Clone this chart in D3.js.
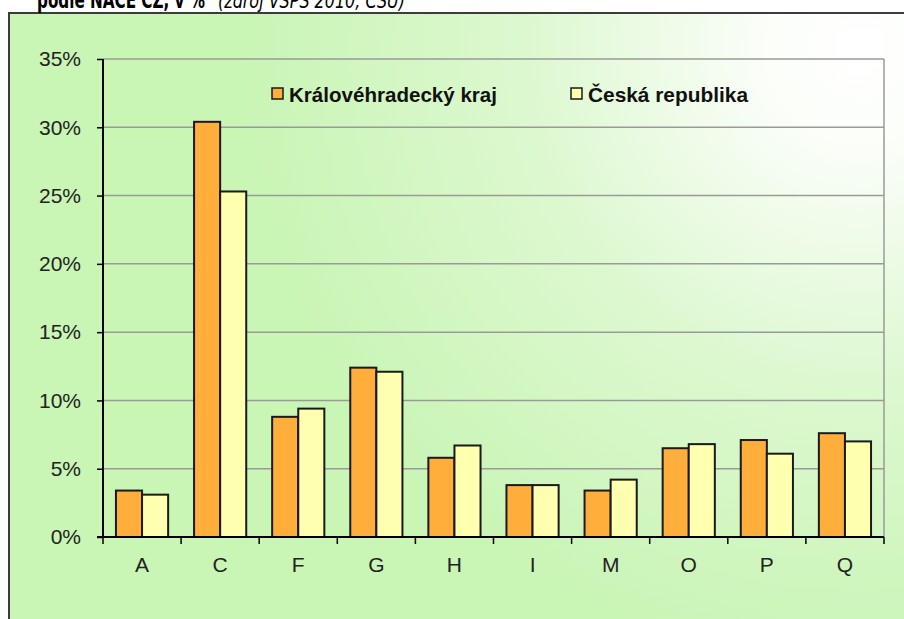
<!DOCTYPE html>
<html lang="cs">
<head>
<meta charset="UTF-8">
<title>Zaměstnanost podle NACE CZ</title>
<script src="https://d3js.org/d3.v7.min.js"></script>
<style>
  body { margin: 0; background: #fff; }
</style>
</head>
<body>
<script>
// Data ////////////////////////////////////
var categories = ['A', 'C', 'F', 'G', 'H', 'I', 'M', 'O', 'P', 'Q'];
var seriesNames = ['Královéhradecký kraj', 'Česká republika'];
var krajValues = [3.4, 30.4, 8.8, 12.4, 5.8, 3.8, 3.4, 6.5, 7.1, 7.6];
var crValues = [3.1, 25.3, 9.4, 12.1, 6.7, 3.8, 4.2, 6.8, 6.1, 7.0];
var yTicks = [0, 5, 10, 15, 20, 25, 30, 35];
var colors = ['#ffae3c', '#ffffb0'];

var W = 904, H = 619;
var margin = {top: 59, right: 20, bottom: 82, left: 103};
var font = 'Arial, "Liberation Sans", sans-serif';

var svg = d3.select('body').append('svg').attr('width', W).attr('height', H);

// background gradient
var defs = svg.append('defs');
var grad = defs.append('radialGradient').attr('id', 'bg')
    .attr('gradientUnits', 'userSpaceOnUse')
    .attr('cx', 860).attr('cy', 50).attr('r', 620);
grad.append('stop').attr('offset', '0%').attr('stop-color', '#ffffff');
grad.append('stop').attr('offset', '15%').attr('stop-color', '#fbfef9');
grad.append('stop').attr('offset', '55%').attr('stop-color', '#dcf8cf');
grad.append('stop').attr('offset', '100%').attr('stop-color', '#c9f5b5');

svg.append('rect').attr('x', 9).attr('y', 13).attr('width', W).attr('height', H)
    .attr('fill', 'url(#bg)').attr('stroke', '#3c3c3c').attr('stroke-width', 2);

// title (its top is cut off in the original too)
var title = svg.append('g').style('font-family', 'Verdana, "DejaVu Sans", sans-serif');
title.append('text').attr('x', 37).attr('y', 8)
    .attr('textLength', 168).attr('lengthAdjust', 'spacingAndGlyphs')
    .style('font-size', '23px').style('font-weight', 'bold')
    .text('podle NACE CZ, v %');
title.append('text').attr('x', 218).attr('y', 8)
    .attr('textLength', 187).attr('lengthAdjust', 'spacingAndGlyphs')
    .style('font-size', '22px').style('font-style', 'italic')
    .text('(zdroj VŠPS 2010, ČSÚ)');

var chartW = W - margin.left - margin.right;
var chartH = H - margin.top - margin.bottom;
var g = svg.append('g').attr('transform', 'translate(' + margin.left + ',' + margin.top + ')');

var x = d3.scaleBand().domain(categories).range([0, chartW]).paddingInner(0).paddingOuter(0);
var inner = d3.scaleBand().domain([0, 1]).range([x.bandwidth() * 0.166, x.bandwidth() * 0.834]);
var y = d3.scaleLinear().domain([0, 35]).range([chartH, 0]);

// gridlines
g.selectAll('line.grid').data(yTicks.filter(function (d) { return d > 0; }))
    .enter().append('line').attr('class', 'grid')
    .attr('x1', 0).attr('x2', chartW)
    .attr('y1', function (d) { return y(d); }).attr('y2', function (d) { return y(d); })
    .style('stroke', '#9a9a9a').style('stroke-width', 1.5);
g.append('line').attr('x1', chartW).attr('x2', chartW).attr('y1', 0).attr('y2', chartH)
    .style('stroke', '#9a9a9a').style('stroke-width', 1.5);

// bars
var series = [krajValues, crValues];
var groups = g.selectAll('g.cat').data(categories).enter().append('g')
    .attr('class', 'cat')
    .attr('transform', function (d) { return 'translate(' + x(d) + ',0)'; });
groups.selectAll('rect').data(function (d, i) {
    return series.map(function (s, k) { return {k: k, v: s[i]}; });
}).enter().append('rect')
    .attr('x', function (d) { return inner(d.k); })
    .attr('width', inner.bandwidth())
    .attr('y', function (d) { return y(d.v); })
    .attr('height', function (d) { return chartH - y(d.v); })
    .style('fill', function (d) { return colors[d.k]; })
    .style('stroke', '#1a1a1a').style('stroke-width', 2);

// y axis
var yAxis = d3.axisLeft(y).tickValues(yTicks).tickSize(6).tickPadding(16)
    .tickFormat(function (d) { return d + '%'; });
var ya = g.append('g').call(yAxis);
ya.select('.domain').attr('d', 'M0,0V' + chartH).style('stroke', '#000').style('stroke-width', 2);
ya.selectAll('.tick line').style('stroke', '#000').style('stroke-width', 1.5);
ya.selectAll('text').style('font-family', font)
    .style('font-size', '21px').style('fill', '#222');

// x axis
var xa = g.append('g').attr('transform', 'translate(0,' + chartH + ')');
xa.append('line').attr('x1', -6).attr('x2', chartW).style('stroke', '#000').style('stroke-width', 2);
xa.selectAll('line.tk').data(d3.range(categories.length + 1)).enter().append('line')
    .attr('class', 'tk')
    .attr('x1', function (i) { return i * x.step(); }).attr('x2', function (i) { return i * x.step(); })
    .attr('y1', 0).attr('y2', 7)
    .style('stroke', '#000').style('stroke-width', 1.5);
xa.selectAll('text').data(categories).enter().append('text')
    .attr('x', function (d) { return x(d) + x.bandwidth() / 2; })
    .attr('y', 35)
    .attr('text-anchor', 'middle')
    .style('font-family', font)
    .style('font-size', '21px').style('fill', '#222')
    .text(function (d) { return d; });

// legend
var legendX = [272, 571];
var legendLen = [208, 160];
var legend = svg.selectAll('g.legend').data(seriesNames).enter().append('g')
    .attr('class', 'legend')
    .attr('transform', function (d, i) { return 'translate(' + legendX[i] + ',94)'; });
legend.append('rect').attr('x', 0).attr('y', -6).attr('width', 11).attr('height', 11)
    .style('fill', function (d, i) { return colors[i]; })
    .style('stroke', '#1a1a1a').style('stroke-width', 1.5);
legend.append('text').attr('x', 17).attr('y', 7.5)
    .attr('textLength', function (d, i) { return legendLen[i]; })
    .attr('lengthAdjust', 'spacingAndGlyphs')
    .style('font-family', font)
    .style('font-size', '21px').style('font-weight', 'bold').style('fill', '#111')
    .text(function (d) { return d; });
</script>
</body>
</html>
